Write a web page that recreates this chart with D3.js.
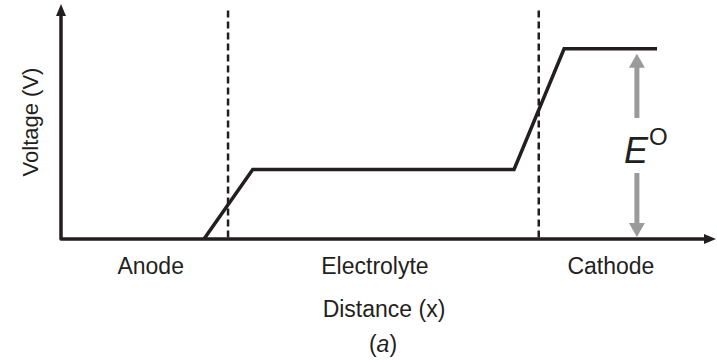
<html>
<head>
<script src="https://cdnjs.cloudflare.com/ajax/libs/d3/7.8.5/d3.min.js"></script>
<style>
body { margin: 0; background: #fff; }
text { font-family: "Liberation Sans", Arial, sans-serif; fill: #231f20; }
</style>
</head>
<body>
<svg id="chart" width="717" height="362"></svg>
<script>
// voltage profile across the cell
var distance = [22, 29.5, 69.7, 77.4, 91.7];
var voltage = [0, 30, 30, 82, 82];
// interfaces between regions
var interfaces = [25.7, 73.5];
// region labels
var regions = ['Anode', 'Electrolyte', 'Cathode'];
var regionCenters = [13.8, 48.3, 84.6];
// E0 marker
var eoX = 88.6;

var svg = d3.select('#chart');
var ink = '#231f20';

var x = d3.scaleLinear().domain([0, 100]).range([61, 711]);
var y = d3.scaleLinear().domain([0, 100]).range([239, 7]);

// dashed interfaces
svg.selectAll('line.iface')
    .data(interfaces)
    .enter()
    .append('line')
    .attr('class', 'iface')
    .attr('x1', function (d) { return x(d); })
    .attr('x2', function (d) { return x(d); })
    .attr('y1', y(98.5))
    .attr('y2', y(0))
    .attr('stroke', ink)
    .attr('stroke-width', 2.5)
    .attr('stroke-dasharray', '7,4');

// axes
svg.append('path')
    .attr('d', 'M' + x(0) + ',' + y(99) + 'V' + y(0) + 'H' + x(99.3))
    .attr('fill', 'none')
    .attr('stroke', ink)
    .attr('stroke-width', 3.5)
    .attr('stroke-linejoin', 'round');
svg.append('path')
    .attr('d', 'M' + x(0) + ',' + (y(100) - 3) + 'l-5,12h10z')
    .attr('fill', ink);
svg.append('path')
    .attr('d', 'M' + (x(100) + 5) + ',' + y(0) + 'l-12,-5v10z')
    .attr('fill', ink);

// profile
var pts = distance.map(function (d, i) { return [x(d), y(voltage[i])]; });
svg.append('path')
    .attr('d', d3.line()(pts))
    .attr('fill', 'none')
    .attr('stroke', ink)
    .attr('stroke-width', 3.5)
    .attr('stroke-linejoin', 'miter');

// E0 double arrow
var grey = '#9a9a9a';
var yTop = y(voltage[4]) + 5, yBot = y(0) - 2;
svg.append('line').attr('x1', x(eoX)).attr('x2', x(eoX))
    .attr('y1', yTop + 10).attr('y2', 118)
    .attr('stroke', grey).attr('stroke-width', 5);
svg.append('path')
    .attr('d', 'M' + x(eoX) + ',' + yTop + 'l-8,14h16z').attr('fill', grey);
svg.append('line').attr('x1', x(eoX)).attr('x2', x(eoX))
    .attr('y1', 173).attr('y2', yBot - 10)
    .attr('stroke', grey).attr('stroke-width', 5);
svg.append('path')
    .attr('d', 'M' + x(eoX) + ',' + yBot + 'l-8,-14h16z').attr('fill', grey);

var eo = svg.append('text')
    .attr('x', 624)
    .attr('y', 163)
    .style('font-size', '36px');
eo.append('tspan').style('font-style', 'italic').text('E');
eo.append('tspan').attr('dy', -18).attr('dx', 1).style('font-size', '24px').text('O');

// region labels
svg.selectAll('text.region')
    .data(regions)
    .enter()
    .append('text')
    .attr('class', 'region')
    .attr('x', function (d, i) { return x(regionCenters[i]); })
    .attr('y', 274)
    .attr('text-anchor', 'middle')
    .style('font-size', '23px')
    .text(function (d) { return d; });

svg.append('text')
    .attr('x', 384)
    .attr('y', 317)
    .attr('text-anchor', 'middle')
    .style('font-size', '23px')
    .text('Distance (x)');

var cap = svg.append('text')
    .attr('x', 383)
    .attr('y', 352)
    .attr('text-anchor', 'middle')
    .style('font-size', '23px');
cap.append('tspan').text('(');
cap.append('tspan').style('font-style', 'italic').text('a');
cap.append('tspan').text(')');

svg.append('text')
    .attr('transform', 'translate(38,122) rotate(-90)')
    .attr('text-anchor', 'middle')
    .style('font-size', '22px')
    .text('Voltage (V)');
</script>
</body>
</html>
